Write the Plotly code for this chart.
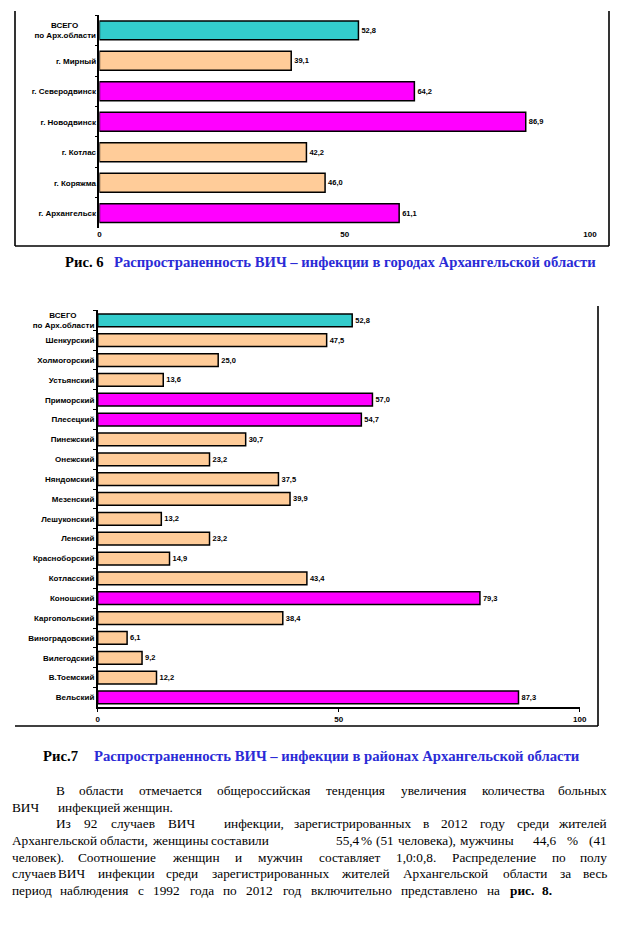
import plotly.graph_objects as go

W, H = 617, 927

# ---------------- data ----------------
city_labels = ["ВСЕГО" + "\u00a0" * 8 + "<br>по Арх.области", "г. Мирный", "г. Северодвинск",
               "г. Новодвинск", "г. Котлас", "г. Коряжма", "г. Архангельск"]
city_values = [52.8, 39.1, 64.2, 86.9, 42.2, 46.0, 61.1]

district_labels = ["ВСЕГО" + "\u00a0" * 8 + "<br>по Арх.области", "Шенкурский", "Холмогорский", "Устьянский",
                   "Приморский", "Плесецкий", "Пинежский", "Онежский", "Няндомский", "Мезенский",
                   "Лешуконский", "Ленский", "Красноборский", "Котласский", "Коношский",
                   "Каргопольский", "Виноградовский", "Вилегодский", "В.Тоемский", "Вельский"]
district_values = [52.8, 47.5, 25.0, 13.6, 57.0, 54.7, 30.7, 23.2, 37.5, 39.9,
                   13.2, 23.2, 14.9, 43.4, 79.3, 38.4, 6.1, 9.2, 12.2, 87.3]

x_ticks = [0, 50, 100]

caption6_num = "Рис. 6"
caption6_text = "Распространенность ВИЧ – инфекции в городах Архангельской области"
caption7_num = "Рис.7"
caption7_text = "Распространенность ВИЧ – инфекции в районах Архангельской области"

# paragraph segments: (x_start, x_end, y, text)
paragraph = [
    (54, 609, 790, "В области отмечается общероссийская тенденция увеличения количества больных"),
    (10, 38, 807, "ВИЧ"),
    (56, 160, 807, "инфекцией женщин."),
    (54, 197, 823, "Из 92 случаев ВИЧ"),
    (222, 609, 823, "инфекции, зарегистрированных в 2012 году среди жителей"),
    (10, 258, 840, "Архангельской области, женщины составили"),
    (334, 511, 840, "55,4 % (51 человека), мужчины"),
    (531, 609, 840, "44,6 % (41"),
    (10, 609, 857, "человек). Соотношение женщин и мужчин составляет 1,0:0,8. Распределение по полу"),
    (10, 78, 873, "случаев ВИЧ"),
    (96, 609, 873, "инфекции среди зарегистрированных жителей Архангельской области за весь"),
    (10, 554, 890, "период наблюдения с 1992 года по 2012 год включительно представлено на рис. 8."),
]
bold_words = {(890, "рис."), (890, "8.")}

TEAL, PEACH, MAGENTA = "#33CCCC", "#FFCC99", "#FF00FF"
BLUE = "#2B2BD6"
SERIF = "Liberation Serif, Times New Roman, serif"
SANS = "Liberation Sans, Arial, sans-serif"


def bar_colors(values):
    total = values[0]
    return [TEAL if i == 0 else (MAGENTA if v > total else PEACH) for i, v in enumerate(values)]


def fmt(v):
    return f"{v:.1f}".replace(".", ",")


def px(x):
    return x / W


def py(y):
    return 1 - y / H


fig = go.Figure()

fig.add_trace(go.Bar(
    x=city_values, y=city_labels, orientation="h", xaxis="x", yaxis="y",
    width=0.62,
    marker=dict(color=bar_colors(city_values), line=dict(color="black", width=1.5)),
    text=[fmt(v) for v in city_values], textposition="outside", constraintext="none",
    textfont=dict(family=SANS, size=7.5, color="black", weight="bold"),
    cliponaxis=False, hoverinfo="skip",
))

fig.add_trace(go.Bar(
    x=district_values, y=district_labels, orientation="h", xaxis="x2", yaxis="y2",
    width=0.64,
    marker=dict(color=bar_colors(district_values), line=dict(color="black", width=1.5)),
    text=[fmt(v) for v in district_values], textposition="outside", constraintext="none",
    textfont=dict(family=SANS, size=7.5, color="black", weight="bold"),
    cliponaxis=False, hoverinfo="skip",
))

tickfont = dict(family=SANS, size=8, color="black", weight="bold")

fig.update_layout(
    width=W, height=H,
    margin=dict(l=0, r=0, t=0, b=0, autoexpand=False),
    paper_bgcolor="white", plot_bgcolor="white",
    showlegend=False,
    xaxis=dict(domain=[px(99.4), px(590)], anchor="y", range=[0, 100],
               tickvals=x_ticks, ticktext=[str(t) for t in x_ticks],
               showline=False, ticks="", showgrid=False, zeroline=False,
               tickfont=tickfont, fixedrange=True, automargin=False),
    yaxis=dict(domain=[py(228.4), py(15.1)], anchor="x", type="category",
               categoryorder="array", categoryarray=city_labels, autorange="reversed",
               showline=True, linecolor="black", linewidth=1.5,
               ticks="outside", tickson="boundaries", ticklen=3, tickcolor="black", tickwidth=1.2,
               showgrid=False, zeroline=False, tickfont=tickfont, automargin=False),
    xaxis2=dict(domain=[px(97.7), px(579.7)], anchor="y2", range=[0, 100],
                tickvals=x_ticks, ticktext=[str(t) for t in x_ticks],
                showline=True, linecolor="black", linewidth=1.5,
                ticks="outside", ticklen=3, tickcolor="black", tickwidth=1.2,
                showgrid=False, zeroline=False, tickfont=tickfont, automargin=False),
    yaxis2=dict(domain=[py(707.4), py(310.4)], anchor="x2", type="category",
                categoryorder="array", categoryarray=district_labels, autorange="reversed",
                showline=True, linecolor="black", linewidth=1.5,
                ticks="outside", tickson="boundaries", ticklen=3, tickcolor="black", tickwidth=1.2,
                showgrid=False, zeroline=False, tickfont=tickfont, automargin=False),
)

# frames around the charts (as in the scanned page)
frame_lines = [
    (15, 11, 15, 246), (609, 11, 609, 246), (15, 246, 609, 246),
    (598, 306, 598, 726), (15, 726, 598, 726),
]
for x0, y0, x1, y1 in frame_lines:
    fig.add_shape(type="line", xref="paper", yref="paper",
                  x0=px(x0), y0=py(y0), x1=px(x1), y1=py(y1),
                  line=dict(color="black", width=1.6))

annotations = []

# captions
CAP = 14.7
for num, text, xnum, xtext, y in [(caption6_num, caption6_text, 63, 112, 262),
                                  (caption7_num, caption7_text, 41, 92, 756)]:
    annotations.append(dict(x=px(xnum), y=py(y), xref="paper", yref="paper", text=num,
                            showarrow=False, xanchor="left", yanchor="middle",
                            font=dict(family=SERIF, size=CAP, color="black", weight="bold")))
    annotations.append(dict(x=px(xtext), y=py(y), xref="paper", yref="paper", text=text,
                            showarrow=False, xanchor="left", yanchor="middle",
                            font=dict(family=SERIF, size=CAP, color=BLUE, weight="bold")))

# paragraph, justified word by word
CW = {'а': 444, 'б': 509, 'в': 472, 'г': 410, 'д': 509, 'е': 444, 'ж': 691, 'з': 395, 'и': 535,
      'й': 535, 'к': 486, 'л': 499, 'м': 633, 'н': 535, 'о': 500, 'п': 535, 'р': 500, 'с': 444,
      'т': 437, 'у': 500, 'ф': 648, 'х': 500, 'ц': 535, 'ч': 503, 'ш': 770, 'щ': 770, 'ъ': 517,
      'ы': 672, 'ь': 456, 'э': 429, 'ю': 747, 'я': 460, 'А': 722, 'В': 667, 'И': 722, 'Ч': 643,
      'Р': 556, 'С': 667, 'Я': 667, ' ': 250, ',': 250, '.': 250, '%': 833, '(': 333, ')': 333,
      ':': 278}
FS = 13.3


def tw(s, bold=False):
    w = sum(CW.get(c, 500) for c in s) / 1000 * FS
    return w * 1.06 if bold else w


for x0, x1, y, text in paragraph:
    words = text.split(" ")
    bolds = [(y, w) in bold_words for w in words]
    widths = [tw(w, b) for w, b in zip(words, bolds)]
    n = len(words)
    gap = (x1 - x0 - sum(widths)) / (n - 1) if n > 1 else 0
    min_gap = 0.3 * FS
    clamped = gap < min_gap
    gap = max(gap, min_gap)
    cur = x0
    for i, (w, b, wd) in enumerate(zip(words, bolds, widths)):
        if i == 0:
            xa, anchor = cur, "left"
        elif i == n - 1 and not clamped:
            xa, anchor = x1, "right"
        else:
            xa, anchor = cur + wd / 2, "center"
        annotations.append(dict(x=px(xa), y=py(y), xref="paper", yref="paper",
                                text=f"<b>{w}</b>" if b else w,
                                showarrow=False, xanchor=anchor, yanchor="middle",
                                font=dict(family=SERIF, size=FS, color="#000000")))
        cur += wd + gap

fig.update_layout(annotations=annotations)

fig.write_html("out.html",
               config={"displayModeBar": False},
               post_script="document.body.style.margin='0';document.body.style.overflow='hidden';")
